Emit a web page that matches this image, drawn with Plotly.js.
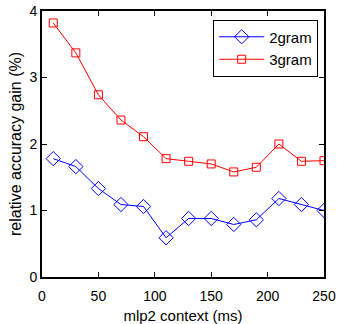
<!DOCTYPE html>
<html>
<head>
<meta charset="utf-8">
<script src="https://cdn.plot.ly/plotly-3.0.1.min.js"></script>
<style>
  html, body { margin: 0; padding: 0; background: #fff; }
  #chart { width: 339px; height: 324px; }
</style>
</head>
<body>
<div id="chart"></div>
<script>
// mlp2 context length (ms)
const contextMs = [10, 30, 50, 70, 90, 110, 130, 150, 170, 190, 210, 230, 250];
// relative accuracy gain (%) per language model
const gain2gram = [1.78, 1.66, 1.33, 1.09, 1.06, 0.59, 0.88, 0.88, 0.79, 0.86, 1.18, 1.09, 1.00];
const gain3gram = [3.82, 3.37, 2.74, 2.36, 2.11, 1.78, 1.74, 1.70, 1.58, 1.65, 2.00, 1.74, 1.75];
const xTicks = [0, 50, 100, 150, 200, 250];
const yTicks = [0, 1, 2, 3, 4];

const family = 'Liberation Sans, Arial, sans-serif';
const font = { family: family, size: 14, color: '#000' };

const traces = [
  {
    x: contextMs, y: gain2gram, name: '2gram', type: 'scatter', mode: 'lines+markers',
    line: { color: '#0000ff', width: 1 },
    marker: { symbol: 'diamond-open', size: 11, color: '#0000ff', line: { width: 1, color: '#0000ff' } }
  },
  {
    x: contextMs, y: gain3gram, name: '3gram', type: 'scatter', mode: 'lines+markers',
    line: { color: '#ff0000', width: 1 },
    marker: { symbol: 'square-open', size: 8, color: '#ff0000', line: { width: 1, color: '#ff0000' } }
  }
];

const axisCommon = {
  showgrid: false, zeroline: false,
  showline: true, linecolor: '#000', linewidth: 2, mirror: 'ticks',
  ticks: 'inside', ticklen: 5, tickwidth: 1, tickcolor: '#000',
  tickfont: font
};

const layout = {
  width: 339, height: 324,
  margin: { l: 41.5, r: 15, t: 10.7, b: 47.3 },
  paper_bgcolor: '#fff', plot_bgcolor: '#fff',
  font: font,
  showlegend: true,
  legend: {
    x: 0.607, y: 0.968, xanchor: 'left', yanchor: 'top',
    bgcolor: '#fff', bordercolor: '#000', borderwidth: 1,
    font: { family: family, size: 15, color: '#000' },
    tracegroupgap: 0, itemwidth: 45
  },
  xaxis: Object.assign({}, axisCommon, {
    range: [0, 250], tickvals: xTicks, ticktext: xTicks.map(String),
    ticklabelstandoff: 5,
    title: { text: 'mlp2 context (ms)', font: { family: family, size: 15, color: '#000' }, standoff: 12 }
  }),
  yaxis: Object.assign({}, axisCommon, {
    range: [0, 4], tickvals: yTicks, ticktext: yTicks.map(String),
    title: { text: 'relative accuracy gain (%)', font: { family: family, size: 16, color: '#000' }, standoff: 4 }
  })
};

Plotly.newPlot('chart', traces, layout, { staticPlot: true, displayModeBar: false });
</script>
</body>
</html>
